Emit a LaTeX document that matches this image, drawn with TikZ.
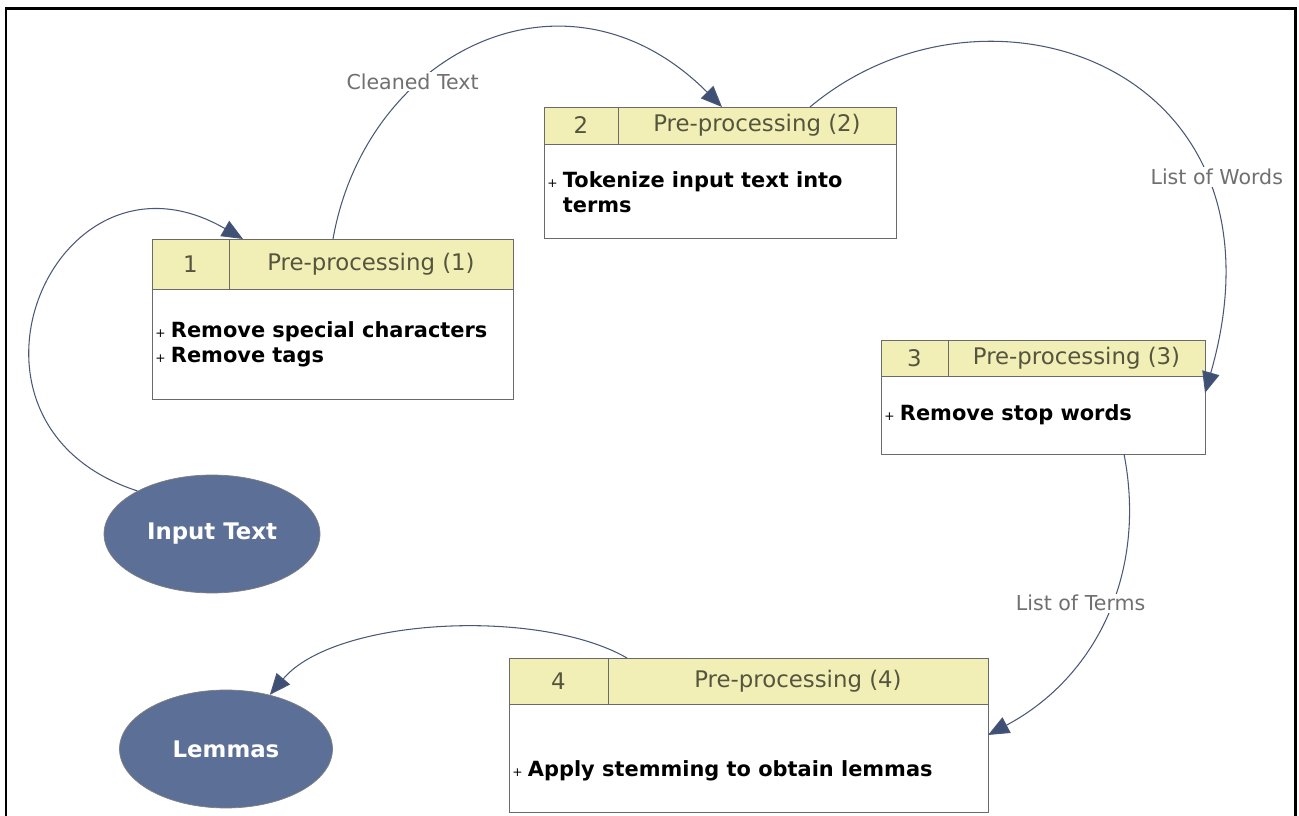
\documentclass[tikz,border=0pt]{standalone}
\usepackage{fontspec}
\setmainfont{DejaVu Sans}
\usetikzlibrary{shapes.geometric,arrows.meta}
\definecolor{headfill}{HTML}{F1EFB6}
\definecolor{headtext}{HTML}{55553F}
\definecolor{boxline}{HTML}{6A6A6A}
\definecolor{ovalfill}{HTML}{5C7097}
\definecolor{flowline}{HTML}{4A5878}
\definecolor{tipfill}{HTML}{3E5074}
\definecolor{lbltext}{HTML}{707070}
\newcommand\plusmark{{\fontsize{7}{7}\selectfont +}\hspace{3pt}}
\newcommand\itm[1]{\plusmark\textbf{#1}}
\newcommand\itmskip{\hphantom{\plusmark}}

\begin{document}
\begin{tikzpicture}[hcell/.style={draw=boxline,fill=headfill,inner sep=0,outer sep=0,anchor=north west,text=headtext,font=\fontsize{13}{15}\selectfont},
    body/.style={draw=boxline,fill=white,inner sep=0,outer sep=0,anchor=north west},
    item/.style={anchor=west,align=left,inner sep=0,font=\fontsize{11.9}{14.4}\selectfont},
    oval/.style={ellipse,draw=gray,fill=ovalfill,inner sep=0,text=white,font=\fontsize{13}{15}\selectfont\bfseries},
    flow/.style={draw=flowline,line width=0.6pt,-{Triangle[length=12pt,width=10pt,fill=tipfill]}},
    lbl/.style={fill=white,inner sep=1pt,text=lbltext,font=\fontsize{11.7}{14}\selectfont}]
    \useasboundingbox (0,0) rectangle (25.98,-16.32);
    \draw [line width=1.7pt] (0.12,-16.6) -- (0.12,-0.18) -- (25.90,-0.18) -- (25.90,-16.6);

    % step 1
    \node (B1num) at (3.04,-4.78) [hcell,minimum width=1.54cm,minimum height=1cm]{1};
    \node (B1ttl) at (B1num.north east) [hcell,minimum width=5.68cm,minimum height=1cm]{Pre-processing (1)};
    \node (B1body) at (B1num.south west) [body,minimum width=7.22cm,minimum height=2.2cm]{};
    \node (T1) at (3.10,-6.88) [item]{\itm{Remove special characters}\\ \itm{Remove tags}};

    % step 2
    \node (B2num) at (10.88,-2.14) [hcell,minimum width=1.48cm,minimum height=0.74cm]{2};
    \node (B2ttl) at (B2num.north east) [hcell,minimum width=5.56cm,minimum height=0.74cm]{Pre-processing (2)};
    \node (B2body) at (B2num.south west) [body,minimum width=7.04cm,minimum height=1.88cm]{};
    \node (T2) at (10.94,-3.84) [item]{\itm{Tokenize input text into}\\ \itmskip\textbf{terms}};

    % step 3
    \node (B3num) at (17.62,-6.8) [hcell,minimum width=1.34cm,minimum height=0.72cm]{3};
    \node (B3ttl) at (B3num.north east) [hcell,minimum width=5.14cm,minimum height=0.72cm]{Pre-processing (3)};
    \node (B3body) at (B3num.south west) [body,minimum width=6.48cm,minimum height=1.56cm]{};
    \node (T3) at (17.68,-8.30) [item]{\itm{Remove stop words}};

    % step 4
    \node (B4num) at (10.18,-13.16) [hcell,minimum width=1.98cm,minimum height=0.92cm]{4};
    \node (B4ttl) at (B4num.north east) [hcell,minimum width=7.6cm,minimum height=0.92cm]{Pre-processing (4)};
    \node (B4body) at (B4num.south west) [body,minimum width=9.58cm,minimum height=2.16cm]{};
    \node (T4) at (10.24,-15.42) [item]{\itm{Apply stemming to obtain lemmas}};

    \node (IN) at (4.24,-10.68) [oval,minimum width=4.32cm,minimum height=2.36cm]{Input Text};
    \node (LEM) at (4.52,-14.98) [oval,minimum width=4.26cm,minimum height=2.36cm]{Lemmas};

    \draw [flow] (IN.150) to [out=162,in=150,looseness=2.05] ([xshift=0.28cm]B1ttl.north west);
    \draw [flow] ([xshift=2.08cm]B1ttl.north west) to [out=80,in=135,out distance=3.8cm,in distance=4.4cm] node[lbl,pos=0.35,xshift=-0.15cm]{Cleaned Text} ([xshift=2.08cm]B2ttl.north west);
    \draw [flow] ([xshift=3.84cm]B2ttl.north west) to [out=40,in=74,out distance=4.6cm,in distance=6.8cm] node[lbl,pos=0.73,xshift=0.28cm]{List of Words} ([yshift=-0.34cm]B3body.north east);
    \draw [flow] ([xshift=4.86cm]B3body.south west) to [out=-79,in=28,looseness=1] node[lbl,pos=0.45,xshift=-0.62cm]{List of Terms} ([yshift=-0.62cm]B4body.north east);
    \draw [flow] ([xshift=0.38cm]B4ttl.north west) to [out=150,in=50,looseness=0.72] (LEM.51);
\end{tikzpicture}
\end{document}
